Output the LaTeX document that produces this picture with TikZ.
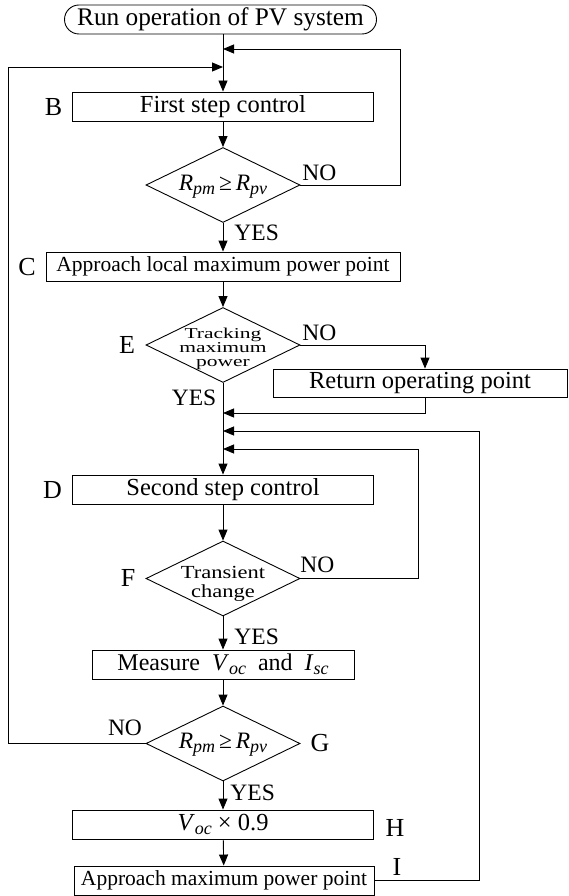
\documentclass[tikz,border=0pt]{standalone}
\usepackage{fontspec}
\setmainfont{Liberation Serif}
\usetikzlibrary{positioning,shapes,arrows.meta}
\def\subfont{\fontsize{18}{18}\selectfont}
\def\Rpm{\textit{R}\raisebox{-0.35ex}{\subfont\textit{pm}}}
\def\Rpv{\textit{R}\raisebox{-0.35ex}{\subfont\textit{pv}}}
\def\Voc{\textit{V}\raisebox{-0.35ex}{\subfont\textit{oc}}}
\def\Isc{\textit{I}\raisebox{-0.35ex}{\subfont\textit{sc}}}
\def\inside#1#2{\smash{\makebox[0pt]{\raisebox{#1}{\begin{tabular}{@{}c@{}}#2\end{tabular}}}}}

\begin{document}
\begin{tikzpicture}[x=1pt,y=-1pt,line width=0.9pt,>={Triangle[length=11pt,width=9pt]},
  box/.style={draw,rectangle,minimum height=29pt,inner sep=0pt,font=\fontsize{24.5}{26}\selectfont},
  cond/.style={draw,diamond,minimum width=154pt,minimum height=75pt,inner sep=0pt,font=\fontsize{23.5}{24}\selectfont},
  tag/.style={inner sep=0pt,font=\fontsize{26}{28}\selectfont},
  yn/.style={inner sep=0pt,font=\fontsize{23.5}{25}\selectfont}]
  \useasboundingbox (0,0) rectangle (568,896);
  \node[box,rounded corners=14.5pt,minimum width=312pt,font=\fontsize{25.3}{27}\selectfont] (start) at (220.5,19.5) {Run operation of PV system};
  \node[box,minimum width=301pt] (first) at (223,106.5) {First step control};
  \node[cond] (chk1) at (223,185) {\inside{-7pt}{\Rpm\,≥\,\Rpv}};
  \node[box,minimum width=354pt,font=\fontsize{21.5}{23}\selectfont] (local) at (223,266.5) {Approach local maximum power point};
  \node[cond,font=\fontsize{21.5}{20.5}\selectfont] (track) at (223,345) {\inside{-9.5pt}{\scalebox{1}[0.7]{\begin{tabular}{@{}c@{}}Tracking\\maximum\\power\end{tabular}}}};
  \node[box,minimum width=294pt,minimum height=28pt] (ret) at (420,383) {Return operating point};
  \node[box,minimum width=301pt] (second) at (223,489.5) {Second step control};
  \node[cond,font=\fontsize{22.5}{23}\selectfont] (trans) at (223,578.5) {\inside{-10.5pt}{\scalebox{1}[0.82]{\begin{tabular}{@{}c@{}}Transient\\change\end{tabular}}}};
  \node[box,minimum width=262pt,font=\fontsize{24}{26}\selectfont] (meas) at (223,664.5) {Measure\ \ \Voc\ \ and\ \ \Isc};
  \node[cond] (chk2) at (223,743.5) {\inside{-7pt}{\Rpm\,≥\,\Rpv}};
  \node[box,minimum width=301pt] (scale) at (223,824.5) {\Voc\ × 0.9};
  \node[box,minimum width=300pt,font=\fontsize{21.5}{23}\selectfont] (mpp) at (224,880.5) {Approach maximum power point};

  \node[tag] (tB) at (53.5,107) {B};
  \node[tag] (tC) at (27,267) {C};
  \node[tag] (tE) at (127,345) {E};
  \node[tag] (tD) at (52.5,490) {D};
  \node[tag] (tF) at (128,578) {F};
  \node[tag] (tG) at (320,743) {G};
  \node[tag] (tH) at (395,828) {H};
  \node[tag] (tI) at (397,867) {I};

  \coordinate (j1) at (223,49);
  \coordinate (j2) at (223,67);
  \coordinate (j3) at (223,413);
  \coordinate (j4) at (223,431);
  \coordinate (j5) at (223,449);

  \draw[->] (start.south -| first.north) -- (first.north);
  \draw[->] (first) -- (chk1);
  \draw[->] (chk1) -- (local);
  \draw[->] (local) -- (track);
  \draw[->] (track) -- (second);
  \draw[->] (second) -- (trans);
  \draw[->] (trans) -- (meas);
  \draw[->] (meas) -- (chk2);
  \draw[->] (chk2) -- (scale);
  \draw[->] (scale) -- (mpp);
  \draw[->] (chk1.east) -- ++(100,0) |- (j1);
  \draw[->] (chk2.west) -- ++(-137,0) |- (j2);
  \draw[->] (track.east) -| ([xshift=5pt]ret.north);
  \draw[->] ([xshift=5pt]ret.south) |- (j3);
  \draw[->] (mpp.east) -- ++(105,0) |- (j4);
  \draw[->] (trans.east) -- ++(118,0) |- (j5);

  \node[yn,anchor=west] (no1) at (302,173) {NO};
  \node[yn,anchor=west] (yes1) at (234,233) {YES};
  \node[yn,anchor=west] (no2) at (302,333) {NO};
  \node[yn] (yes2) at (194,398) {YES};
  \node[yn,anchor=west] (no3) at (300,565) {NO};
  \node[yn,anchor=west] (yes3) at (234,637) {YES};
  \node[yn] (no4) at (125,728) {NO};
  \node[yn,anchor=west] (yes4) at (230,793) {YES};
\end{tikzpicture}
\end{document}
